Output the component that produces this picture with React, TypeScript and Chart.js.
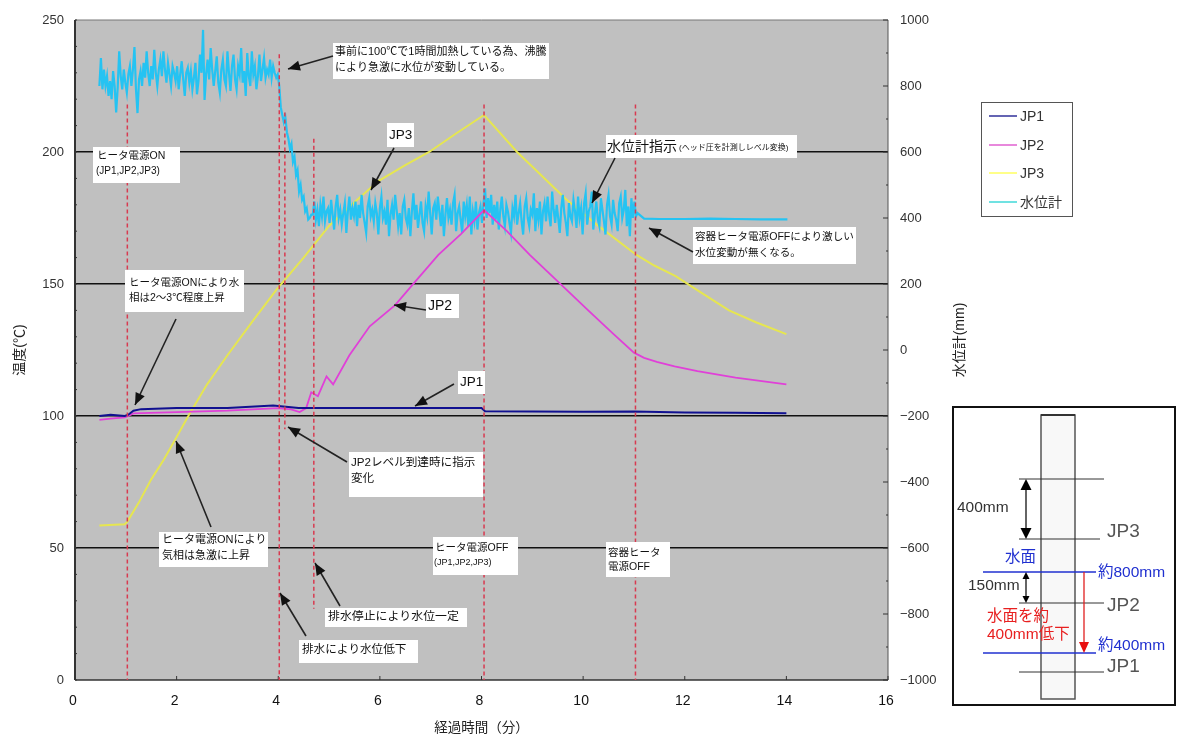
import React, { useEffect, useRef } from "react";
import { Chart, registerables } from "chart.js";

Chart.register(...registerables);

const FONT = '"Liberation Sans", "Noto Sans CJK JP", sans-serif';

// Temperature series: [time in minutes], [degrees C]
const jp1Time = [0.48, 0.7, 0.98, 1.05, 1.15, 1.3, 2, 3, 3.9, 4.4, 5, 6, 7, 8.0, 8.07, 9, 10, 11, 12, 13, 14];
const jp1Temp = [100, 100.5, 100, 100.5, 102, 102.6, 103, 103, 104, 103, 103, 103, 103, 103, 101.8, 101.7, 101.6, 101.7, 101.3, 101.2, 101];
const jp2Time = [0.48, 0.7, 0.98, 1.05, 1.15, 2, 3, 4, 4.25, 4.42, 4.55, 4.65, 4.78, 4.95, 5.08, 5.4, 5.8, 6.3, 6.7, 7.15, 7.6, 8.05, 8.5, 8.95, 9.5, 10.1, 10.6, 11.0, 11.2, 11.45, 11.8, 12.25, 13, 14];
const jp2Temp = [98.5, 99, 99.5, 100, 101, 101.5, 102, 103, 102.5, 101.5, 103, 109, 107.5, 115, 112, 123, 134, 142, 151, 161, 169, 178, 170, 161, 151, 140, 131, 124, 122, 120.5, 118.8, 117, 114.5, 112];
const jp3Time = [0.48, 0.98, 1.03, 1.25, 1.5, 1.75, 1.97, 2.23, 2.6, 3, 3.5, 3.97, 4.5, 5, 5.5, 5.97, 6.5, 6.97, 7.5, 8.05, 8.7, 9.67, 10.3, 11.05, 11.4, 11.82, 12.3, 12.87, 13.4, 14];
const jp3Temp = [58.5, 59, 60, 67, 76, 83.5, 91, 100, 112, 123, 136, 148, 160, 172, 181, 189, 195, 200, 207, 214, 200, 182, 172, 161, 157, 153, 147, 140, 135.5, 131];

// Water level series (mm), sampled every waterStep minutes from waterStart
const waterStart = 0.48;
const waterStep = 0.03;
const waterBoiling = [
  800, 885, 790, 850, 800, 830, 770, 815, 760, 845,
  800, 720, 795, 905, 830, 790, 850, 810, 780, 835,
  860, 800, 850, 918, 790, 718, 820, 845, 800, 870,
  825, 905, 840, 800, 860, 820, 910, 840, 800, 850,
  880, 830, 905, 850, 810, 870, 835, 800, 860, 840,
  815, 860, 790, 835, 875, 820, 770, 840, 855, 810,
  845, 790, 825, 870, 775, 815, 895, 840, 970, 758,
  835, 880, 820, 915, 850, 800, 845, 890, 810, 780,
  850, 880, 820, 800, 905, 840, 785, 860, 895, 820,
  790, 860, 835, 915, 810, 845, 770, 900, 830, 800,
  905, 835, 860, 790, 830, 895, 815, 850, 885, 825,
  850, 835, 880, 825, 860, 840, 825, 835,
];
const waterDraining = [800, 735, 712, 690, 705, 660, 640, 610, 625, 570, 585, 530, 545, 480, 500, 455, 465, 420, 430, 395, 400, 410];
const waterSteady = [
  410, 450, 395, 425, 375, 440, 405, 465, 390, 420,
  430, 385, 455, 410, 365, 435, 470, 400, 425, 380,
  415, 445, 355, 420, 465, 395, 430, 405, 450, 375,
  440, 400, 470, 415, 385, 355, 435, 460, 405, 425,
  390, 445, 415, 350, 430, 465, 400, 420, 380, 455,
  345, 410, 440, 395, 470, 425, 375, 415, 350, 435,
  455, 400, 380, 430, 345, 420, 475, 395, 440, 370,
  410, 450, 385, 360, 435, 405, 480, 415, 350, 430,
  445, 395, 465, 420, 375, 440, 345, 410, 460, 400,
  425, 380, 445, 470, 360, 415, 435, 395, 355, 450,
  405, 440, 375, 465, 350, 420, 390, 450, 365, 415,
  435, 385, 445, 490, 400, 460, 415, 470, 380, 440,
  395, 450, 365, 425, 465, 405, 375, 440, 420, 385,
  355, 430, 405, 470, 380, 415, 445, 390, 350, 435,
  460, 400, 375, 425, 410, 475, 360, 430, 395, 450,
  350, 420, 445, 390, 465, 410, 375, 480, 425, 385,
  440, 400, 355, 430, 470, 415, 385, 345, 445, 405,
  390, 455, 420, 370, 465, 400, 430, 350, 445, 475,
  380, 420, 435, 480, 365, 410, 450, 395, 375, 460,
  425, 390, 350, 440, 470, 405, 380, 455, 415, 395,
  360, 445, 465, 400, 425, 485, 375, 435, 345, 460,
  400, 450, 405,
];
const waterOffTime = [11.07, 11.2, 11.5, 12, 12.5, 13, 13.5, 14.02];
const waterOffLevel = [415, 398, 397, 397, 398, 397, 396, 396];

// Event markers: time, top and bottom temperature of each dashed line
const eventTime = [1.03, 4.02, 4.13, 4.7, 8.05, 11.03];
const eventTop = [218, 237, 215, 205, 218, 218];
const eventBottom = [0, 0, 95, 27, 0, 0];

const xTicks = [0, 2, 4, 6, 8, 10, 12, 14, 16];
const legendNames = ["JP1", "JP2", "JP3", "水位計"];
const legendColours = ["#30309a", "#e060d0", "#ffff60", "#40d8d8"];

type Note = { box: number[]; lines: [string, number, number, number][]; arrow?: number[] };

const notes: Note[] = [
  { box: [333, 43, 549, 79], lines: [["事前に100℃で1時間加熱している為、沸騰", 335, 52, 11], ["により急激に水位が変動している。", 335, 68, 11]], arrow: [333, 56, 288, 69] },
  { box: [93, 147, 180, 183], lines: [["ヒータ電源ON", 97, 156, 10.5], ["(JP1,JP2,JP3)", 96, 171, 10]] },
  { box: [387, 123, 414, 147], lines: [["JP3", 389, 135, 13.5]], arrow: [394, 148, 371, 190] },
  { box: [606, 135, 797, 158], lines: [["水位計指示", 607, 147, 14], ["(ヘッド圧を計測しレベル変換)", 679, 148, 8]], arrow: [615, 158, 592, 203] },
  { box: [693, 227, 856, 264], lines: [["容器ヒータ電源OFFにより激しい", 695, 237, 10.6], ["水位変動が無くなる。", 695, 253, 10.6]], arrow: [693, 252, 649, 228] },
  { box: [125, 270, 244, 312], lines: [["ヒータ電源ONにより水", 129, 283, 10.5], ["相は2～3℃程度上昇", 129, 298, 10.5]], arrow: [176, 319, 135, 405] },
  { box: [426, 294, 459, 318], lines: [["JP2", 428, 306, 14]], arrow: [426, 310, 394, 305] },
  { box: [458, 371, 485, 394], lines: [["JP1", 460, 382, 13.5]], arrow: [454, 384, 415, 406] },
  { box: [159, 532, 268, 567], lines: [["ヒータ電源ONにより", 162, 540, 11], ["気相は急激に上昇", 162, 556, 11]], arrow: [211, 527, 176, 441] },
  { box: [349, 452, 483, 497], lines: [["JP2レベル到達時に指示", 351, 463, 11.6], ["変化", 351, 479, 11.6]], arrow: [347, 462, 288, 427] },
  { box: [433, 537, 518, 575], lines: [["ヒータ電源OFF", 435, 548, 10.5], ["(JP1,JP2,JP3)", 434, 563, 9]] },
  { box: [606, 542, 670, 577], lines: [["容器ヒータ", 608, 553, 10.5], ["電源OFF", 608, 567, 10.5]] },
  { box: [325, 608, 467, 627], lines: [["排水停止により水位一定", 328, 617, 11.9]], arrow: [340, 606, 315, 563] },
  { box: [299, 640, 418, 663], lines: [["排水により水位低下", 302, 650, 11.6]], arrow: [306, 636, 280, 593] },
];

function head(ctx: CanvasRenderingContext2D, x0: number, y0: number, x1: number, y1: number, color: string, len = 10, w = 4.5) {
  const a = Math.atan2(y1 - y0, x1 - x0);
  ctx.fillStyle = color;
  ctx.beginPath();
  ctx.moveTo(x1, y1);
  ctx.lineTo(x1 - len * Math.cos(a) + w * Math.sin(a), y1 - len * Math.sin(a) - w * Math.cos(a));
  ctx.lineTo(x1 - len * Math.cos(a) - w * Math.sin(a), y1 - len * Math.sin(a) + w * Math.cos(a));
  ctx.closePath();
  ctx.fill();
}

function seg(ctx: CanvasRenderingContext2D, x0: number, y0: number, x1: number, y1: number, color: string, width = 1) {
  ctx.strokeStyle = color;
  ctx.lineWidth = width;
  ctx.beginPath();
  ctx.moveTo(x0, y0);
  ctx.lineTo(x1, y1);
  ctx.stroke();
}

function label(ctx: CanvasRenderingContext2D, text: string, x: number, y: number, size: number, color = "#111") {
  ctx.fillStyle = color;
  ctx.font = `${size}px ${FONT}`;
  ctx.textAlign = "left";
  ctx.textBaseline = "middle";
  ctx.fillText(text, x, y);
}

const backgroundPlugin = {
  id: "plotBackground",
  beforeDraw(chart: any) {
    const { ctx, chartArea: a } = chart;
    ctx.save();
    ctx.fillStyle = "#c0c0c0";
    ctx.fillRect(a.left, a.top, a.right - a.left, a.bottom - a.top);
    ctx.restore();
  },
};

const framePlugin = {
  id: "frameAndTicks",
  beforeDatasetsDraw(chart: any) {
    const { ctx, chartArea: a, scales } = chart;
    ctx.save();
    seg(ctx, a.left, a.top, a.right, a.top, "#777", 1);
    seg(ctx, a.right, a.top, a.right, a.bottom, "#555", 1);
    seg(ctx, a.left, a.top, a.left, a.bottom, "#333", 2);
    seg(ctx, a.left, a.bottom, a.right, a.bottom, "#333", 1.5);
    for (let v = 0; v <= 250; v += 10) {
      const y = scales.y.getPixelForValue(v);
      seg(ctx, a.left, y, a.left + 2, y, "#333", 1);
    }
    for (let v = -1000; v <= 1000; v += 100) {
      const y = scales.y1.getPixelForValue(v);
      seg(ctx, a.right, y, a.right - (v % 200 === 0 ? 5 : 2), y, "#333", 1);
    }
    xTicks.forEach((v) => {
      const x = scales.x.getPixelForValue(v);
      seg(ctx, x, a.bottom, x, a.bottom - 4, "#333", 1);
    });
    ctx.restore();
  },
};

const notesPlugin = {
  id: "notes",
  afterDatasetsDraw(chart: any) {
    const { ctx } = chart;
    ctx.save();
    notes.forEach((n) => {
      const [x0, y0, x1, y1] = n.box;
      ctx.fillStyle = "#ffffff";
      ctx.fillRect(x0, y0, x1 - x0, y1 - y0);
      n.lines.forEach(([t, x, y, s]) => label(ctx, t, x, y, s));
      if (n.arrow) {
        const [ax, ay, bx, by] = n.arrow;
        seg(ctx, ax, ay, bx, by, "#222", 1.6);
        head(ctx, ax, ay, bx, by, "#111", 12, 5);
      }
    });

    // Right axis title
    ctx.save();
    ctx.translate(960, 340);
    ctx.rotate(-Math.PI / 2);
    ctx.fillStyle = "#222";
    ctx.font = `14px ${FONT}`;
    ctx.textAlign = "center";
    ctx.textBaseline = "middle";
    ctx.fillText("水位計(mm)", 0, 0);
    ctx.restore();

    // Legend
    ctx.strokeStyle = "#555";
    ctx.lineWidth = 1;
    ctx.strokeRect(981.5, 102.5, 91, 114);
    [116, 145, 173, 202].forEach((y, i) => {
      seg(ctx, 989, y, 1017, y, legendColours[i], 1.5);
      label(ctx, legendNames[i], 1020, y + 1, 14, "#333");
    });

    // Inset schematic
    ctx.fillStyle = "#ffffff";
    ctx.fillRect(953, 407, 222, 298);
    ctx.strokeStyle = "#111";
    ctx.lineWidth = 2;
    ctx.strokeRect(953, 407, 222, 298);
    ctx.fillStyle = "#f8f8f8";
    ctx.fillRect(1041, 415, 34, 284);
    ctx.strokeStyle = "#555";
    ctx.lineWidth = 1.5;
    ctx.strokeRect(1041, 415, 34, 284);
    seg(ctx, 1041, 415, 1075, 415, "#333", 2);
    seg(ctx, 1019, 479, 1104, 479, "#333");
    seg(ctx, 1019, 539, 1100, 539, "#333");
    seg(ctx, 1019, 603, 1104, 603, "#333");
    seg(ctx, 1019, 672, 1104, 672, "#333");
    seg(ctx, 983, 572, 1096, 572, "#2030d0", 1.3);
    seg(ctx, 983, 653, 1096, 653, "#2030d0", 1.3);
    seg(ctx, 1026, 485, 1026, 533, "#111", 1.3);
    head(ctx, 1026, 533, 1026, 479, "#000", 11, 5.5);
    head(ctx, 1026, 485, 1026, 539, "#000", 11, 5.5);
    seg(ctx, 1026, 576, 1026, 599, "#111", 1.3);
    head(ctx, 1026, 599, 1026, 572, "#000", 7, 3.5);
    head(ctx, 1026, 576, 1026, 603, "#000", 7, 3.5);
    seg(ctx, 1084, 572, 1084, 645, "#e02020", 1.3);
    head(ctx, 1084, 572, 1084, 653, "#e81010", 11, 5);
    label(ctx, "400mm", 957, 508, 15.5, "#333");
    label(ctx, "JP3", 1107, 532, 19, "#555");
    label(ctx, "水面", 1005, 558, 15.5, "#2030d0");
    label(ctx, "約800mm", 1098, 573, 15.5, "#2030d0");
    label(ctx, "150mm", 968, 586, 15.5, "#333");
    label(ctx, "JP2", 1107, 606, 19, "#555");
    label(ctx, "水面を約", 987, 617, 15.5, "#e82020");
    label(ctx, "400mm低下", 987, 635, 15.5, "#e82020");
    label(ctx, "約400mm", 1098, 646, 15.5, "#2030d0");
    label(ctx, "JP1", 1107, 667, 19, "#555");
    ctx.restore();
  },
};

const pairs = (xs: number[], ys: number[]) => xs.map((x, i) => ({ x, y: ys[i] }));
const plain = (v: number) => String(v).replace("-", "−");

export default function App() {
  const ref = useRef<HTMLCanvasElement>(null);
  useEffect(() => {
    const sampled = [...waterBoiling, ...waterDraining, ...waterSteady];
    const waterData = [
      ...sampled.map((y, i) => ({ x: waterStart + i * waterStep, y })),
      ...pairs(waterOffTime, waterOffLevel),
    ];
    const eventSets = eventTime.map((t, i) => ({
      label: `event${i}`,
      data: [{ x: t, y: eventTop[i] }, { x: t, y: eventBottom[i] }],
      yAxisID: "y",
      borderColor: "#d83a50",
      borderWidth: 1.5,
      borderDash: [4, 3],
      pointRadius: 0,
    }));
    const chart = new Chart(ref.current!, {
      type: "line",
      data: {
        datasets: [
          ...eventSets,
          { label: "JP1", data: pairs(jp1Time, jp1Temp), yAxisID: "y", borderColor: "#101090", borderWidth: 2, pointRadius: 0 },
          { label: "JP2", data: pairs(jp2Time, jp2Temp), yAxisID: "y", borderColor: "#e040d8", borderWidth: 1.8, pointRadius: 0 },
          { label: "水位計", data: waterData, yAxisID: "y1", borderColor: "#25c3f2", borderWidth: 2.2, pointRadius: 0 },
          { label: "JP3", data: pairs(jp3Time, jp3Temp), yAxisID: "y", borderColor: "#e6e650", borderWidth: 2, pointRadius: 0 },
        ] as any,
      },
      options: {
        responsive: false,
        animation: false,
        devicePixelRatio: 1,
        parsing: false,
        normalized: true,
        layout: { padding: { top: 20, right: 214, left: 0, bottom: 0 } },
        plugins: { legend: { display: false }, tooltip: { enabled: false } },
        scales: {
          x: {
            type: "linear",
            min: 0,
            max: 16,
            afterBuildTicks: (s: any) => { s.ticks = xTicks.map((value) => ({ value })); },
            afterFit: (s: any) => { s.height = 56; },
            grid: { display: false, drawTicks: false },
            border: { display: false },
            ticks: { padding: 13, maxRotation: 0, labelOffset: -2, color: "#111", font: { family: FONT, size: 14 } },
            title: { display: true, text: "経過時間（分）", color: "#222", font: { family: FONT, size: 13.5 }, padding: { top: 8, bottom: 0 } },
          },
          y: {
            position: "left",
            min: 0,
            max: 250,
            afterFit: (s: any) => { s.width = 75; },
            grid: {
              drawTicks: false,
              lineWidth: 1.5,
              color: (c: any) => (c.tick.value > 0 && c.tick.value < 250 ? "#111" : "rgba(0,0,0,0)"),
            },
            border: { display: false },
            ticks: { stepSize: 50, padding: 11, color: "#333", font: { family: FONT, size: 13 }, callback: plain },
            title: { display: true, text: "温度(℃)", color: "#222", font: { family: FONT, size: 14 }, padding: { top: 12, bottom: 0 } },
          },
          y1: {
            position: "right",
            min: -1000,
            max: 1000,
            afterFit: (s: any) => { s.width = 82; },
            grid: { display: false, drawTicks: false },
            border: { display: false },
            ticks: { stepSize: 200, padding: 12, color: "#333", font: { family: FONT, size: 13 }, callback: plain },
          },
        },
      } as any,
      plugins: [backgroundPlugin, framePlugin, notesPlugin],
    });
    return () => chart.destroy();
  }, []);
  return (
    <div style={{ position: "fixed", left: 0, top: 0, width: 1184, height: 736, background: "#fff" }}>
      <canvas ref={ref} width={1184} height={736} style={{ display: "block", filter: "blur(0.4px)" }} />
    </div>
  );
}
